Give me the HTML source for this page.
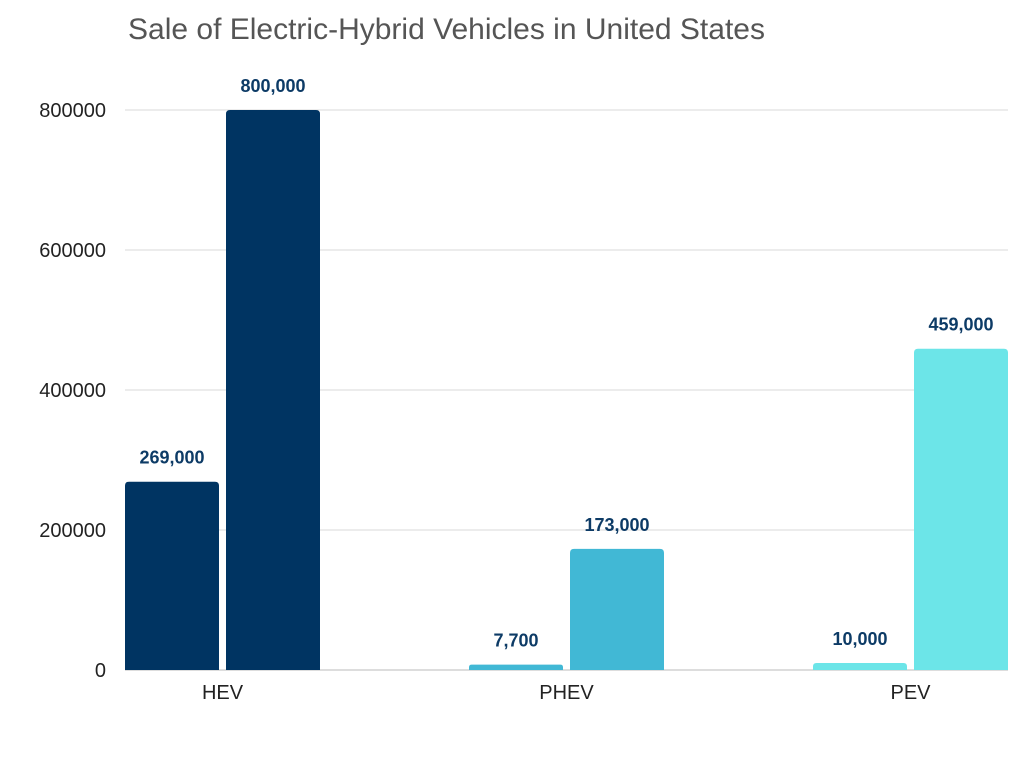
<!DOCTYPE html>
<html><head><meta charset="utf-8"><style>
body{margin:0;background:#fff;width:1024px;height:768px;overflow:hidden;font-family:"Liberation Sans",sans-serif}
</style></head><body>
<svg id="chart" width="1024" height="768" xmlns="http://www.w3.org/2000/svg">
<text x="128" y="39" font-size="30" fill="#555" font-family="Liberation Sans, sans-serif">Sale of Electric-Hybrid Vehicles in United States</text>
<g id="grid"></g><g id="bars"></g><g id="labels"></g>
</svg>
<script>
const categories=["HEV","PHEV","PEV"];
const seriesA=[269000,7700,10000];
const seriesB=[800000,173000,459000];
const yTicks=[0,200000,400000,600000,800000];
const colors=["#003462","#41b8d5","#6ce5e8"];
const NS="http://www.w3.org/2000/svg";
const x0=125,x1=1008,yBase=670,yTop=110,yMax=800000;
const y=v=>yBase-(v/yMax)*(yBase-yTop);
const groupW=(x1-x0+7)/categories.length*1.0;
const bw=94,gap=7,step=344;
function mk(t,a,p){const e=document.createElementNS(NS,t);for(const k in a)e.setAttribute(k,a[k]);p.appendChild(e);return e;}
const grid=document.getElementById('grid'),bars=document.getElementById('bars'),labels=document.getElementById('labels');
yTicks.forEach(t=>{
  const l=mk('line',{x1:x0,x2:x1,y1:y(t),y2:y(t),stroke:t===0?'#bbb':'#d9d9d9','stroke-width':1},grid);
  
  
  const tx=mk('text',{x:106,y:y(t)+7,'text-anchor':'end','font-size':20,fill:'#222'},grid);
  
  
  tx.textContent=t;
});
function bar(xl,v,c){
  const h=yBase-y(v),r=Math.min(4,h/2);
  const p=mk('path',{d:`M${xl},${yBase}V${y(v)+r}Q${xl},${y(v)} ${xl+r},${y(v)}H${xl+bw-r}Q${xl+bw},${y(v)} ${xl+bw},${y(v)+r}V${yBase}Z`,fill:c},bars);
  
  
  const t=mk('text',{x:xl+bw/2,y:y(v)-18,'text-anchor':'middle','font-size':18,'font-weight':'bold',fill:'#0d3b66'},labels);
  
  
  t.textContent=v.toLocaleString('en-US');
}
categories.forEach((c,i)=>{
  const gx=x0+i*step;
  bar(gx,seriesA[i],colors[i]);
  bar(gx+bw+gap,seriesB[i],colors[i]);
  const t=mk('text',{x:gx+bw+gap/2,y:699,'text-anchor':'middle','font-size':20,fill:'#222'},labels);
  
  
  t.textContent=c;
});
</script>
</body></html>
